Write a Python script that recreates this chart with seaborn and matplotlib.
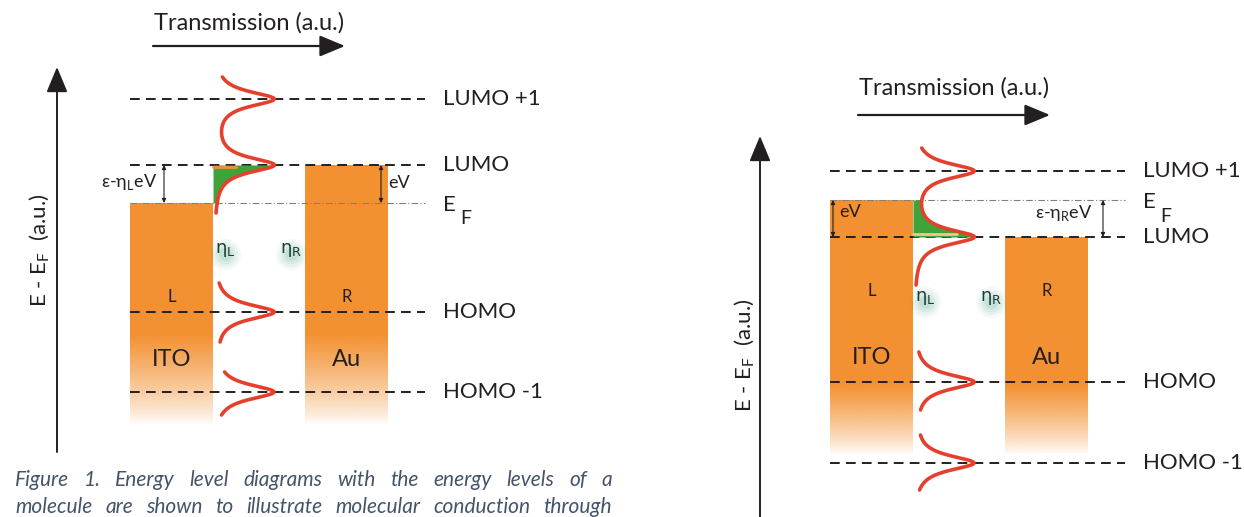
"""Energy level diagrams for molecular conduction (two bias cases)."""

import matplotlib.pyplot as plt
import seaborn as sns
import numpy as np
import pandas as pd

sns.set_style("white")
plt.rcParams['font.family'] = ['Lato', 'DejaVu Sans']
plt.rcParams['mathtext.fontset'] = 'dejavusans'

# ---- data (figure works in pixel-like units, y grows downward) ----
level_names = ["LUMO +1", "LUMO", "HOMO", "HOMO -1"]

# panel a: left electrode at E_F, right raised by eV
a_levels = [99, 165, 312, 392]
a_ef = 203
a_bar_top = [203, 165]          # ITO, Au
a_segments = [(77, 213), (283, 342), (372, 415)]

# panel b: opposite bias
b_levels = [171, 237, 382, 463]
b_ef = 200
b_bar_top = [200, 237]
b_segments = [(148, 285), (352, 410), (435, 490)]

peak_height = 60
peak_width = 9

caption_lines = [
    "Figure 1. Energy level diagrams with the energy levels of a",
    "molecule are shown to illustrate molecular conduction through",
]

ORANGE = np.array([243, 145, 50]) / 255
RED = '#e5402d'
GREEN = '#3ea338'
INK = '#231f20'

fig = plt.figure(figsize=(12.44, 5.17), dpi=100)
ax = fig.add_axes([0, 0, 1, 1])
ax.set_xlim(0, 1244)
ax.set_ylim(517, 0)
ax.axis('off')


def bar(x0, x1, top, bottom, fade):
    # orange electrode that fades to white at the bottom
    n = 200
    ys = np.linspace(top, bottom, n)
    alpha = np.clip((bottom - ys) / (bottom - fade), 0, 1) ** 0.8
    img = np.zeros((n, 2, 4))
    img[..., :3] = ORANGE
    img[..., 3] = alpha[:, None]
    ax.imshow(img, extent=(x0, x1, bottom, top), origin='upper',
              aspect='auto', interpolation='bilinear', zorder=1)


def transmission(y, levels, edge):
    y = np.asarray(y, dtype=float)
    t = sum(peak_height / (1 + ((y - lev) / peak_width) ** 2) for lev in levels)
    return edge + t


def panel(ox, levels, ef, bar_top, segments, line_end, label_x, fade, bottom,
          eta_y, lr_y, metal_y):
    xl0, xl1 = ox, ox + 83
    xr0, xr1 = ox + 175, ox + 258
    bar(xl0, xl1, bar_top[0], bottom, fade)
    bar(xr0, xr1, bar_top[1], bottom, fade)

    # molecular levels
    for lev, name in zip(levels, level_names):
        ax.plot([ox, line_end], [lev, lev], color=INK, lw=1.4,
                dashes=(5, 3.2), zorder=3)
        ax.text(label_x, lev, name, fontsize=16, color=INK, va='center', ha='left')
    ax.plot([ox, line_end], [ef, ef], color='#808080', lw=0.8,
            dashes=(6, 2, 1, 2), zorder=3)

    # transmission peaks
    frames = []
    for i, (s0, s1) in enumerate(segments):
        yy = np.linspace(s0, s1, 300)
        frames.append(pd.DataFrame({'y': yy, 'x': transmission(yy, levels, xl1),
                                    'seg': i}))
    df = pd.concat(frames)
    sns.lineplot(data=df, x='x', y='y', units='seg', estimator=None, sort=False,
                 orient='y', color=RED, lw=2.6, ax=ax, zorder=5)

    # occupied window between E_F and LUMO
    lo, hi = sorted([ef, levels[1]])
    yy = np.linspace(lo, hi, 200)
    ax.fill_betweenx(yy, xl1, transmission(yy, levels, xl1), color=GREEN,
                     lw=0, zorder=4)

    # eta labels with soft glow
    for ex, sub in [(xl1 + 12, 'L'), (xl1 + 78, 'R')]:
        for s, a in [(520, 0.05), (340, 0.07), (200, 0.09), (90, 0.12)]:
            ax.scatter([ex], [eta_y + 4], s=s, color='#3d9b86', alpha=a,
                       lw=0, zorder=2)
        ax.text(ex, eta_y, r'η$_{\mathregular{%s}}$' % sub, fontsize=13,
                color='#1f3d38', ha='center', va='center', zorder=6,
                family=['DejaVu Sans'])

    ax.text((xl0 + xl1) / 2, lr_y, 'L', fontsize=12, color=INK, ha='center', va='center')
    ax.text((xr0 + xr1) / 2, lr_y, 'R', fontsize=12, color=INK, ha='center', va='center')
    ax.text((xl0 + xl1) / 2, metal_y, 'ITO', fontsize=17, color=INK, ha='center', va='center')
    ax.text((xr0 + xr1) / 2, metal_y, 'Au', fontsize=17, color=INK, ha='center', va='center')

    # Fermi level label
    ax.text(label_x, ef + 2, 'E', fontsize=16, color=INK, va='center', ha='left')
    ax.text(label_x + 17, ef + 16, 'F', fontsize=14, color=INK, va='center', ha='left')
    return xl0, xl1, xr0, xr1


def double_arrow(x, y0, y1):
    ax.annotate('', xy=(x, y0), xytext=(x, y1),
                arrowprops=dict(arrowstyle='<|-|>', color=INK, lw=0.8,
                                mutation_scale=6, shrinkA=0, shrinkB=0), zorder=6)


def trans_arrow(x0, x1, y, ty):
    ax.annotate('', xy=(x1, y), xytext=(x0, y),
                arrowprops=dict(arrowstyle='-|>,head_length=1.2,head_width=0.5',
                                color=INK, lw=1.6, mutation_scale=13,
                                shrinkA=0, shrinkB=0))
    ax.text((x0 + x1) / 2, ty, 'Transmission (a.u.)', fontsize=17,
            color=INK, ha='center', va='center')


def energy_axis(x, y0, y1, ylab_x, ylab_y):
    ax.annotate('', xy=(x, y1), xytext=(x, y0),
                arrowprops=dict(arrowstyle='-|>,head_length=1.2,head_width=0.5',
                                color=INK, lw=1.4, mutation_scale=13,
                                shrinkA=0, shrinkB=0))
    ax.text(ylab_x, ylab_y, r'E - E$_{\mathregular{F}}$  (a.u.)', fontsize=16,
            color=INK, rotation=90, ha='center', va='center')


# ---- panel a ----
panel(130, a_levels, a_ef, a_bar_top, a_segments, 425, 443,
      fade=335, bottom=425, eta_y=250, lr_y=297, metal_y=360)
trans_arrow(153, 345, 46, 23)
energy_axis(57, 452, 67, 40, 250)
double_arrow(164, a_levels[1], a_ef)
ax.text(157, 182, r'ε-η$_{\mathregular{L}}$eV', fontsize=13, color=INK,
        ha='right', va='center')
double_arrow(381, a_levels[1], a_ef)
ax.text(388, 183, 'eV', fontsize=13, color=INK, ha='left', va='center')
ax.plot([213, 236], [a_levels[1] + 1.5] * 2, color=ORANGE, lw=2, zorder=4)

# ---- panel b ----
panel(830, b_levels, b_ef, b_bar_top, b_segments, 1125, 1143,
      fade=385, bottom=455, eta_y=298, lr_y=291, metal_y=358)
trans_arrow(858, 1050, 115, 88)
energy_axis(760, 530, 136, 745, 355)
double_arrow(833, b_ef, b_levels[1])
ax.text(839, 212, 'eV', fontsize=13, color=INK, ha='left', va='center')
double_arrow(1103, b_ef, b_levels[1])
ax.text(1093, 213, r'ε-η$_{\mathregular{R}}$eV', fontsize=13, color=INK,
        ha='right', va='center')
ax.plot([913, 957], [b_levels[1] - 3] * 2, color='#f6c48f', lw=2, zorder=4)

# ---- caption, justified ----
renderer = fig.canvas.get_renderer()
for line, y in zip(caption_lines, [480, 507]):
    words = line.split()
    texts = [ax.text(0, y, w, fontsize=15, style='italic', color='#44546a',
                     va='center', ha='left') for w in words]
    widths = [t.get_window_extent(renderer).width for t in texts]
    gap = (612 - 15 - sum(widths)) / (len(words) - 1)
    x = 15
    for t, w in zip(texts, widths):
        t.set_x(x)
        x += w + gap

fig.savefig('out.png', dpi=100)
